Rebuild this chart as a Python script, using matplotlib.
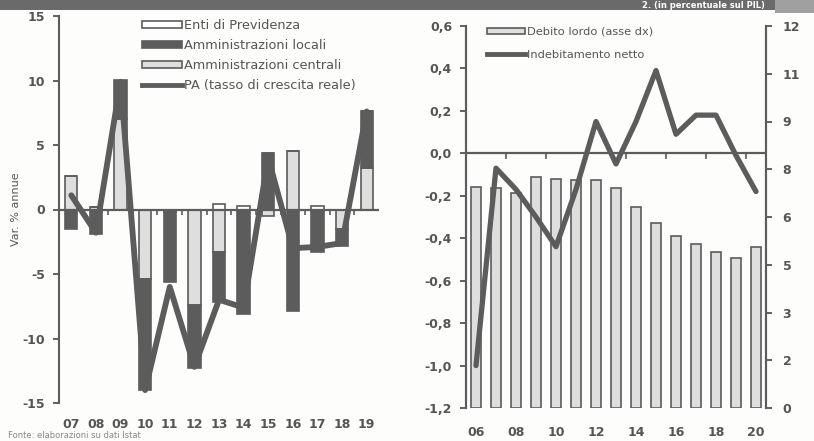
import numpy as np
import matplotlib
matplotlib.use("Agg")
import matplotlib.pyplot as plt
from matplotlib.patches import Rectangle
from matplotlib.lines import Line2D
from matplotlib.ticker import FuncFormatter, FixedLocator

# ---- left panel: contributions to real growth of public spending ----
years_left = ['07', '08', '09', '10', '11', '12', '13', '14', '15', '16', '17', '18', '19']
centrali = [2.6, 0.2, 7.0, -5.4, -0.2, -7.4, -3.3, 0.0, -0.5, 4.5, 0.0, -1.5, 3.2]
locali = [-1.5, -1.9, 3.0, -8.6, -5.4, -4.9, -3.9, -8.1, 4.4, -7.9, -3.3, -1.3, 4.4]
enti = [0.0, 0.0, 0.0, 0.0, 0.0, 0.0, 0.4, 0.3, 0.0, 0.0, 0.3, 0.0, 0.0]
pa_crescita = [1.1, -1.8, 9.9, -14.0, -6.0, -12.2, -7.0, -7.6, 4.0, -3.0, -2.9, -2.6, 7.6]

# ---- right panel: debt and net borrowing ----
years_right = ['06', '07', '08', '09', '10', '11', '12', '13', '14', '15', '16', '17', '18', '19', '20']
debito_lordo = [6.95, 6.9, 6.75, 7.25, 7.2, 7.15, 7.15, 6.9, 6.3, 5.8, 5.4, 5.15, 4.9, 4.7, 5.05]
indebitamento = [-1.0, -0.07, -0.17, -0.30, -0.44, -0.17, 0.15, -0.05, 0.15, 0.39, 0.09, 0.18, 0.18, -0.01, -0.18]

DARK = '#5c5c5c'
LIGHT = '#dedede'
TXT = '#555555'

W, H = 814, 441
fig = plt.figure(figsize=(W / 100, H / 100), dpi=100)
fig.patch.set_facecolor('#fdfdfb')


def px_axes(x0, y0, x1, y1):
    return fig.add_axes([x0 / W, (H - y1) / H, (x1 - x0) / W, (y1 - y0) / H])


# top banner
fig.patches.append(Rectangle((0, 1 - 10 / H), 775 / W, 10 / H, transform=fig.transFigure,
                             facecolor='#6a6a6a', edgecolor='none'))
fig.patches.append(Rectangle((775 / W, 1 - 13 / H), 39 / W, 13 / H, transform=fig.transFigure,
                             facecolor='#a0a0a0', edgecolor='none'))
fig.text(765 / W, 1 - 5 / H, '2. (in percentuale sul PIL)', color='white', fontsize=6,
         fontweight='bold', ha='right', va='center')

# ================= left panel =================
axl = px_axes(59, 16, 379, 403)
axl.set_facecolor('none')
x = np.arange(len(years_left))
pos = np.zeros(len(x))
neg = np.zeros(len(x))
series = [(centrali, LIGHT), (locali, DARK), (enti, 'white')]
for vals, col in series:
    v = np.array(vals)
    bottom = np.where(v >= 0, pos, neg)
    axl.bar(x, v, bottom=bottom, width=0.5, color=col, edgecolor=DARK, linewidth=1.2, zorder=2)
    pos = pos + np.where(v >= 0, v, 0)
    neg = neg + np.where(v < 0, v, 0)

axl.plot(x, pa_crescita, color=DARK, lw=4.2, solid_joinstyle='round', solid_capstyle='round', zorder=4)
axl.axhline(0, color=DARK, lw=1.6, zorder=3)
axl.vlines(np.arange(len(x) - 1) + 0.5, -0.4, 0, color=DARK, lw=1.2, zorder=3)

axl.set_xlim(-0.5, len(x) - 0.5)
axl.set_ylim(-15, 15)
axl.set_yticks([-15, -10, -5, 0, 5, 10, 15])
axl.set_yticklabels(['-15', '-10', '-5', '0', '5', '10', '15'])
axl.set_xticks(x)
axl.set_xticklabels(years_left)
for s in ['top', 'right', 'bottom']:
    axl.spines[s].set_visible(False)
axl.spines['left'].set_color(DARK)
axl.spines['left'].set_linewidth(1.5)
axl.tick_params(axis='y', colors=TXT, labelsize=9, length=4, width=1.3, pad=6)
axl.tick_params(axis='x', colors=TXT, labelsize=9, length=0, pad=11)
for lab in axl.get_xticklabels() + axl.get_yticklabels():
    lab.set_fontweight('bold')
axl.set_ylabel('Var. % annue', color=TXT, fontsize=8, labelpad=1)

hl = [Rectangle((0, 0), 1, 1, facecolor='white', edgecolor=DARK, lw=1.2),
      Rectangle((0, 0), 1, 1, facecolor=DARK, edgecolor=DARK, lw=1.2),
      Rectangle((0, 0), 1, 1, facecolor=LIGHT, edgecolor=DARK, lw=1.2),
      Line2D([], [], color=DARK, lw=3.5)]
ll = ['Enti di Previdenza', 'Amministrazioni locali', 'Amministrazioni centrali', 'PA (tasso di crescita reale)']
leg = axl.legend(hl, ll, loc='upper left', bbox_to_anchor=(142 / W, 1 - 19 / H),
                 bbox_transform=fig.transFigure, frameon=False, fontsize=9.3,
                 handlelength=3.1, handleheight=0.5, handletextpad=0.15,
                 labelspacing=0.55, borderpad=0, borderaxespad=0)
for t in leg.get_texts():
    t.set_color(TXT)

# ================= right panel =================
axr = px_axes(466, 26, 766, 408)
axr2 = axr.twinx()
axr.set_zorder(axr2.get_zorder() + 1)
axr.patch.set_visible(False)
xr = np.arange(len(years_right))

axr2.bar(xr, debito_lordo, width=0.5, color=LIGHT, edgecolor=DARK, linewidth=1.2, zorder=2)
axr2.set_ylim(0, 12)
ticks_r = np.arange(0, 12.01, 1.5)
axr2.yaxis.set_major_locator(FixedLocator(ticks_r))
axr2.yaxis.set_major_formatter(FuncFormatter(lambda v, p: '%d' % int(np.floor(v + 0.5))))

axr.plot(xr, indebitamento, color=DARK, lw=3.8, solid_joinstyle='round', solid_capstyle='round', zorder=4)
axr.axhline(0, color=DARK, lw=1.6, zorder=3)
axr.vlines(np.arange(1, len(xr) - 1, 2) + 0.5, -0.025, 0, color=DARK, lw=1.2, zorder=3)
axr.set_xlim(-0.5, len(xr) - 0.5)
axr.set_ylim(-1.2, 0.6)
lt = np.round(np.arange(-1.2, 0.61, 0.2), 1)
axr.set_yticks(lt)
axr.set_yticklabels([('%.1f' % v).replace('.', ',').replace('-0,0', '0,0') for v in lt])
axr.set_xticks(xr[::2])
axr.set_xticklabels(years_right[::2])

for a in (axr, axr2):
    a.spines['top'].set_visible(False)
    a.spines['bottom'].set_visible(False)
    for s in ('left', 'right'):
        a.spines[s].set_color(DARK)
        a.spines[s].set_linewidth(1.5)
axr.tick_params(axis='y', colors=TXT, labelsize=9, length=4, width=1.3, pad=6)
axr.tick_params(axis='x', colors=TXT, labelsize=9, length=0, pad=13)
axr2.tick_params(axis='y', colors=TXT, labelsize=9, length=4, width=1.3, pad=8)
for lab in axr.get_xticklabels() + axr.get_yticklabels() + axr2.get_yticklabels():
    lab.set_fontweight('bold')

hr = [Rectangle((0, 0), 1, 1, facecolor=LIGHT, edgecolor=DARK, lw=1.2),
      Line2D([], [], color=DARK, lw=3.5)]
lr = ['Debito lordo (asse dx)', 'Indebitamento netto']
leg2 = axr.legend(hr, lr, loc='upper left', bbox_to_anchor=(487 / W, 1 - 27 / H),
                  bbox_transform=fig.transFigure, frameon=False, fontsize=8.2,
                  handlelength=3.3, handleheight=0.5, handletextpad=0.2,
                  labelspacing=1.15, borderpad=0, borderaxespad=0)
for t in leg2.get_texts():
    t.set_color(TXT)

fig.text(8 / W, 1 - 431 / H, 'Fonte: elaborazioni su dati Istat', color='#888888', fontsize=6,
         va='top', ha='left')

fig.savefig('out.png', dpi=100)
